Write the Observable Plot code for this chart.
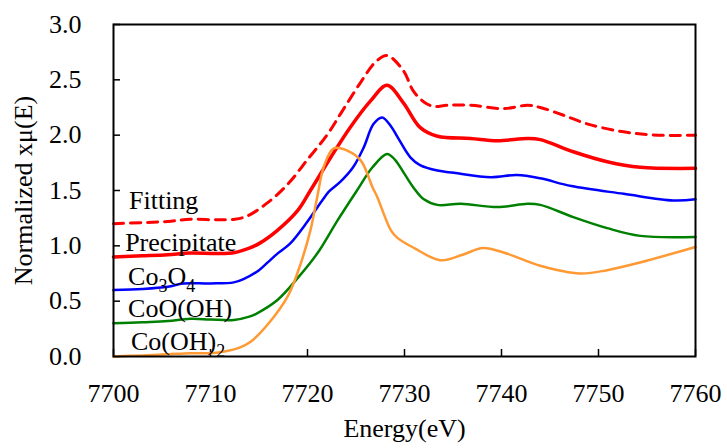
<!DOCTYPE html>
<html><head><meta charset="utf-8">
<script src="https://cdn.jsdelivr.net/npm/d3@7"></script>
<script src="https://cdn.jsdelivr.net/npm/@observablehq/plot@0.6"></script>
<style>
body{margin:0;background:#fff}
#chart svg{font-family:"Liberation Serif","Times New Roman",serif !important;font-size:26px !important}
#chart svg text{font-family:"Liberation Serif","Times New Roman",serif !important}
</style>
</head><body><div id="chart"></div>
<script>
// ---- data ----
const fittingE = [7700,7703,7705.6,7707.9,7710.7,7712.5,7713.8,7715.9,7718,7720,7722,7723.6,7725.5,7727,7728.2,7729.9,7730.9,7732,7733,7734.4,7736.8,7740.2,7742.7,7744,7746.4,7748.9,7752.6,7756.1,7760];
const fittingV = [1.20,1.21,1.22,1.24,1.235,1.24,1.27,1.39,1.56,1.78,2.00,2.22,2.48,2.66,2.72,2.58,2.40,2.30,2.26,2.27,2.27,2.24,2.27,2.25,2.18,2.10,2.03,2.00,2.00];

const precipE = [7700,7703,7705.6,7707.9,7710.7,7712.5,7714,7715,7716.9,7719,7720.3,7722.4,7724.4,7726.5,7728.2,7729.9,7731.6,7733.4,7736.8,7739.6,7742.7,7744,7747.4,7750.9,7754.3,7760];
const precipV = [0.90,0.91,0.92,0.935,0.93,0.94,0.98,1.02,1.14,1.32,1.50,1.80,2.07,2.31,2.45,2.29,2.07,1.99,1.97,1.95,1.97,1.96,1.85,1.76,1.71,1.70];

const co3o4E = [7700,7703,7705.6,7707.2,7710,7712.4,7713.4,7715,7715.9,7716.9,7718.2,7720,7721.6,7722.2,7723.4,7724.7,7725.8,7726.8,7727.7,7728.6,7729.3,7730.6,7731.6,7733.4,7735.1,7738.9,7741.6,7744,7747.2,7752.6,7757.7,7760];
const co3o4V = [0.60,0.61,0.63,0.66,0.66,0.67,0.70,0.78,0.85,0.93,1.02,1.22,1.42,1.49,1.58,1.71,1.89,2.10,2.16,2.08,1.98,1.80,1.73,1.68,1.66,1.62,1.64,1.61,1.54,1.47,1.41,1.42];

const coohE = [7700,7703,7705.6,7707.9,7710,7712.4,7714,7714.8,7716.9,7719,7721,7723.1,7725.1,7726.7,7728.2,7729,7730,7730.9,7732,7733.4,7735.8,7739.6,7742.7,7744,7747.4,7750.9,7754.3,7760];
const coohV = [0.30,0.31,0.32,0.34,0.335,0.33,0.36,0.39,0.51,0.71,0.93,1.23,1.50,1.71,1.83,1.78,1.65,1.53,1.42,1.37,1.38,1.35,1.38,1.37,1.26,1.16,1.09,1.08];

const coOH2E = [7700,7703,7705.6,7707.9,7710,7711.7,7713,7714.1,7716,7718,7719.3,7720.3,7721,7721.7,7722.7,7724.1,7725.5,7726.7,7727.2,7728.6,7729.3,7731,7733.7,7736,7738.1,7740.2,7744,7748.1,7750.9,7754.3,7760];
const coOH2V = [0.00,0.01,0.02,0.03,0.03,0.05,0.08,0.13,0.30,0.55,0.84,1.14,1.44,1.72,1.88,1.86,1.77,1.53,1.44,1.14,1.07,0.98,0.87,0.92,0.98,0.94,0.82,0.75,0.78,0.85,0.99];

const seriesNames = ["Fitting","Precipitate","Co3O4","CoO(OH)","Co(OH)2"];
const seriesColors = ["#ff0000","#ff0000","#0000ff","#008000","#ff9933"];
const xTicks = [7700,7710,7720,7730,7740,7750,7760];
const yTicks = [0,0.5,1,1.5,2,2.5,3];

// label anchors (data units)
const labelE = [7701.6,7701.2,7701.5,7701.5,7701.8];
const labelV = [1.41,1.03,0.72,0.43,0.13];

// ---- build rows ----
const seriesE = [fittingE, precipE, co3o4E, coohE, coOH2E];
const seriesV = [fittingV, precipV, co3o4V, coohV, coOH2V];
const rows = [];
seriesNames.forEach((name, i) => {
  seriesE[i].forEach((e, j) => rows.push({series: name, energy: e, value: seriesV[i][j]}));
});
const labels = seriesNames.map((name, i) => ({name, energy: labelE[i], value: labelV[i]}));

const widths = {"Fitting": 3, "Precipitate": 3.5, "Co3O4": 2.5, "CoO(OH)": 2.5, "Co(OH)2": 2.5};

const lineMarks = seriesNames.map((name, i) => Plot.line(rows.filter(r => r.series === name), {
  x: "energy", y: "value", stroke: seriesColors[i], strokeWidth: widths[name],
  strokeDasharray: name === "Fitting" ? "10,7" : null, curve: "catmull-rom"
}));

const chart = Plot.plot({
  width: 727, height: 448,
  marginLeft: 113, marginRight: 32, marginTop: 24, marginBottom: 92,
  style: {fontFamily: "Liberation Serif, Times New Roman, serif", fontSize: "26px", color: "black", background: "white"},
  x: {domain: [7700, 7760]},
  y: {domain: [0, 3]},
  marks: [
    Plot.axisX({ticks: xTicks, tickSize: -7, tickPadding: 34, strokeWidth: 1.5, tickFormat: d => String(d),
      label: "Energy(eV)", labelAnchor: "center", labelOffset: 80, labelArrow: "none", fontSize: 26}),
    Plot.axisY({ticks: yTicks, tickSize: -7, tickPadding: 39, strokeWidth: 1.5, tickFormat: d3.format(".1f"),
      label: "Normalized xμ(E)", labelAnchor: "center", labelOffset: 100, labelArrow: "none", fontSize: 26}),
    ...lineMarks,
    Plot.frame({stroke: "black", strokeWidth: 2}),
    Plot.text(labels, {x: "energy", y: "value", text: "name", textAnchor: "start", fontSize: 26, fill: "black"})
  ]
});

// subscripts
chart.querySelectorAll('g[aria-label="text"] text').forEach(t => {
  const s = t.textContent;
  if (s === "Co3O4") t.innerHTML = 'Co<tspan dy="7" font-size="18">3</tspan><tspan dy="-7">O</tspan><tspan dy="7" font-size="18">4</tspan>';
  else if (s === "Co(OH)2") t.innerHTML = 'Co(OH)<tspan dy="7" font-size="18">2</tspan>';
});
document.getElementById("chart").appendChild(chart);
</script>
</body></html>
